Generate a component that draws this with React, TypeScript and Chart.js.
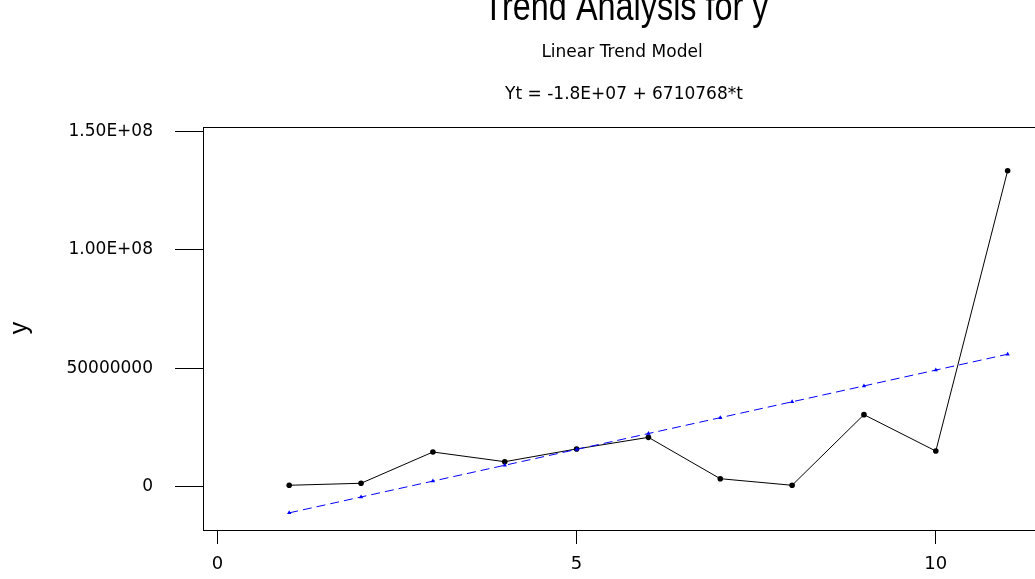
import React, { useEffect, useRef } from "react";
import { Chart, registerables } from "chart.js";

Chart.register(...registerables);

// ---- data ----
const periods = [1, 2, 3, 4, 5, 6, 7, 8, 9, 10, 11];
const actualY = [0.42e6, 1.27e6, 14.5e6, 10.4e6, 15.8e6, 20.7e6, 3.2e6, 0.42e6, 30.3e6, 14.9e6, 133.5e6];
const trendY = [-11.24e6, -4.53e6, 2.18e6, 8.89e6, 15.6e6, 22.31e6, 29.02e6, 35.74e6, 42.45e6, 49.16e6, 55.87e6];
const xTickValues = [0, 5, 10];
const yTickValues = [0, 50000000, 100000000, 150000000];
const yTickLabels = ["0", "50000000", "1.00E+08", "1.50E+08"];
const titleText = "Trend Analysis for y";
const subtitleText = "Linear Trend Model";
const equationText = "Yt = -1.8E+07 + 6710768*t";
const yAxisLabel = "y";

const textPlugin = {
  id: "textPlugin",
  afterDraw(chart: any) {
    const ctx = chart.ctx;
    const a = chart.chartArea;
    ctx.save();
    // plot frame
    ctx.strokeStyle = "#000";
    ctx.lineWidth = 1;
    ctx.strokeRect(Math.round(a.left) + 0.5, Math.round(a.top) + 0.5, Math.round(a.right - a.left), Math.round(a.bottom - a.top));
    ctx.fillStyle = "#000";
    ctx.textAlign = "center";
    ctx.textBaseline = "alphabetic";
    ctx.save();
    ctx.translate(626, 20);
    ctx.scale(0.81, 1);
    ctx.font = "40px 'Liberation Sans', Arial, sans-serif";
    ctx.fillText(titleText, 0, 0);
    ctx.restore();
    ctx.font = "17px 'DejaVu Sans', sans-serif";
    ctx.fillText(subtitleText, 622, 56.5);
    ctx.fillText(equationText, 624, 99);
    ctx.translate(20.5, 328);
    ctx.rotate(-Math.PI / 2);
    ctx.textBaseline = "middle";
    ctx.font = "25px 'Liberation Sans', Arial, sans-serif";
    ctx.fillText(yAxisLabel, 0, 0);
    ctx.restore();
  },
};

export default function App() {
  const ref = useRef<HTMLCanvasElement>(null);
  useEffect(() => {
    if (!ref.current) return;
    const chart = new Chart(ref.current, {
      type: "line",
      data: {
        datasets: [
          {
            label: "Fits",
            data: periods.map((t, i) => ({ x: t, y: trendY[i] })),
            borderColor: "#0000FF",
            backgroundColor: "#0000FF",
            borderWidth: 1,
            borderDash: [9, 5],
            pointStyle: "triangle",
            pointRadius: 2.5,
            pointBorderWidth: 0,
            pointBackgroundColor: "#0000FF",
            tension: 0,
          },
          {
            label: "Actual",
            data: periods.map((t, i) => ({ x: t, y: actualY[i] })),
            borderColor: "#000",
            backgroundColor: "#000",
            borderWidth: 1,
            pointRadius: 2.8,
            pointBorderWidth: 0,
            pointBackgroundColor: "#000",
            tension: 0,
          },
        ],
      },
      options: {
        responsive: false,
        animation: false,
        devicePixelRatio: 1,
        layout: { padding: { left: 0, top: 127, right: 15, bottom: 0 } },
        plugins: {
          legend: { display: false },
          tooltip: { enabled: false },
          title: { display: false },
        },
        scales: {
          x: {
            type: "linear",
            min: -0.2,
            max: 11.52,
            afterFit: (s: any) => {
              s.height = 49;
            },
            afterBuildTicks: (s: any) => {
              s.ticks = xTickValues.map((v) => ({ value: v }));
            },
            grid: { drawOnChartArea: false, drawTicks: true, tickLength: 14, color: "#000" },
            border: { display: false },
            ticks: {
              padding: 10,
              color: "#000",
              font: { family: "'DejaVu Sans', sans-serif", size: 18 },
              maxRotation: 0,
              autoSkip: false,
            },
          },
          y: {
            type: "linear",
            min: -18.5e6,
            max: 152e6,
            afterFit: (s: any) => {
              s.width = 203;
            },
            afterBuildTicks: (s: any) => {
              s.ticks = yTickValues.map((v) => ({ value: v }));
            },
            grid: { drawOnChartArea: false, drawTicks: true, tickLength: 28, color: "#000" },
            border: { display: false },
            ticks: {
              padding: 22,
              color: "#000",
              font: { family: "'DejaVu Sans', sans-serif", size: 17 },
              autoSkip: false,
              callback: (v: any) => {
                const i = yTickValues.indexOf(Number(v));
                return i >= 0 ? yTickLabels[i] : "";
              },
            },
          },
        },
      },
      plugins: [textPlugin],
    });
    return () => chart.destroy();
  }, []);
  return (
    <div style={{ position: "fixed", left: 0, top: 0, width: 1035, height: 579, overflow: "hidden", background: "#fff" }}>
      <canvas ref={ref} width={1060} height={579} style={{ display: "block" }} />
    </div>
  );
}
